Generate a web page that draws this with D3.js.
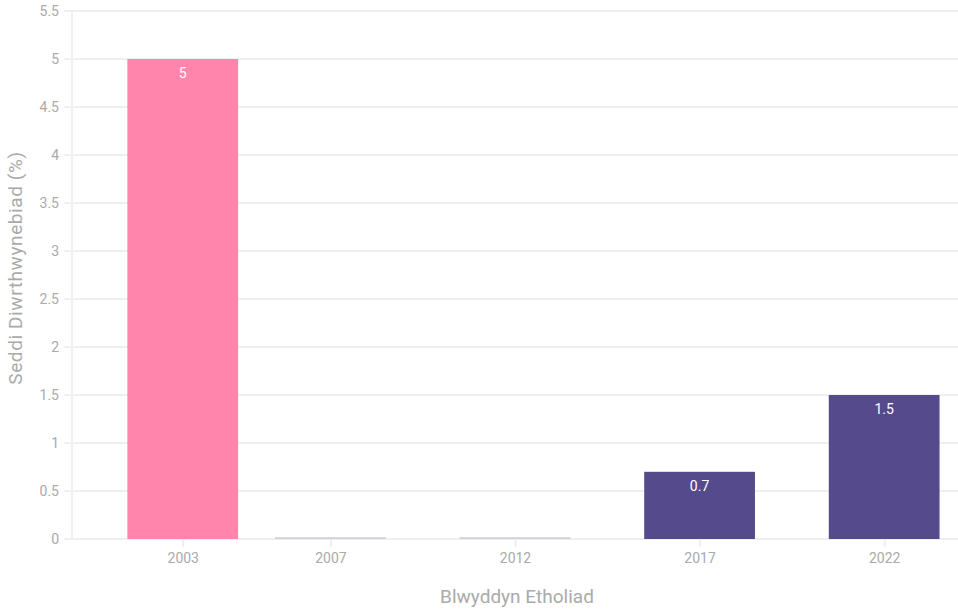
<!DOCTYPE html>
<html><head><meta charset="utf-8">
<script src="https://cdn.jsdelivr.net/npm/d3@7"></script>
<style>body{margin:0;background:#fff;} text{font-family:Roboto, "DejaVu Sans", sans-serif;}</style>
</head><body>
<svg id="c" width="958" height="609"></svg>
<script>
const years = [2003, 2007, 2012, 2017, 2022];
const values = [5, 0, 0, 0.7, 1.5];
const colors = ["#FF85AD", "#554A8B", "#554A8B", "#554A8B", "#554A8B"];
const yTicks = [0, 0.5, 1, 1.5, 2, 2.5, 3, 3.5, 4, 4.5, 5, 5.5];
const labels = ["5", "", "", "0.7", "1.5"];

const svg = d3.select("#c");
const m = {l:72, r:0, t:11, b:70};
const W = 958, H = 609;
const x = d3.scaleLinear().domain([2000, 2024]).range([m.l, W - m.r]);
const y = d3.scaleLinear().domain([0, 5.5]).range([H - m.b, m.t]);
const barW = x(2003) - x(2000);

// gridlines
svg.append("g").selectAll("line").data(yTicks).join("line")
  .attr("x1", m.l - 8).attr("x2", W).attr("y1", d => y(d)).attr("y2", d => y(d))
  .attr("stroke", "#efefef").attr("stroke-width", 2);
// y axis line
svg.append("line").attr("x1", m.l).attr("x2", m.l).attr("y1", y(5.5)).attr("y2", y(0))
  .attr("stroke", "#efefef").attr("stroke-width", 2);

const yAxis = d3.axisLeft(y).tickValues(yTicks).tickSize(0).tickPadding(13).tickFormat(d => String(d));
const gy = svg.append("g").attr("transform", `translate(${m.l},0)`).call(yAxis);
gy.select(".domain").remove();
gy.selectAll("text").attr("fill", "#aaa").attr("font-size", 14);

const xAxis = d3.axisBottom(x).tickValues(years).tickSize(8).tickPadding(6).tickFormat(d => String(d));
const gx = svg.append("g").attr("transform", `translate(0,${y(0)})`).call(xAxis);
gx.select(".domain").remove();
gx.selectAll("line").attr("stroke", "#efefef").attr("stroke-width", 2);
gx.selectAll("text").attr("fill", "#aaa").attr("font-size", 14);

// bars
const data = years.map((yr, i) => ({yr, v: values[i], c: colors[i], l: labels[i]}));
svg.append("g").selectAll("rect").data(data).join("rect")
  .attr("x", d => x(d.yr) - barW/2).attr("width", barW)
  .attr("y", d => d.v > 0 ? y(d.v) : y(0) - 1.5)
  .attr("height", d => d.v > 0 ? y(0) - y(d.v) : 1)
  .attr("fill", d => d.c).attr("fill-opacity", d => d.v > 0 ? 1 : 0.4);

svg.append("g").selectAll("text").data(data.filter(d => d.l)).join("text")
  .attr("x", d => x(d.yr)).attr("y", d => y(d.v) + 19)
  .attr("text-anchor", "middle").attr("fill", "#fff").attr("font-size", 14)
  .text(d => d.l);

svg.append("text").attr("x", (m.l + W)/2 + 2).attr("y", 603).attr("text-anchor", "middle")
  .attr("fill", "#aaa").attr("font-size", 19).text("Blwyddyn Etholiad");
svg.append("text").attr("transform", `translate(22,268) rotate(-90)`)
  .attr("text-anchor", "middle").attr("fill", "#aaa").attr("font-size", 19)
  .attr("letter-spacing", 0.6)
  .text("Seddi Diwrthwynebiad (%)");
</script>
</body></html>
